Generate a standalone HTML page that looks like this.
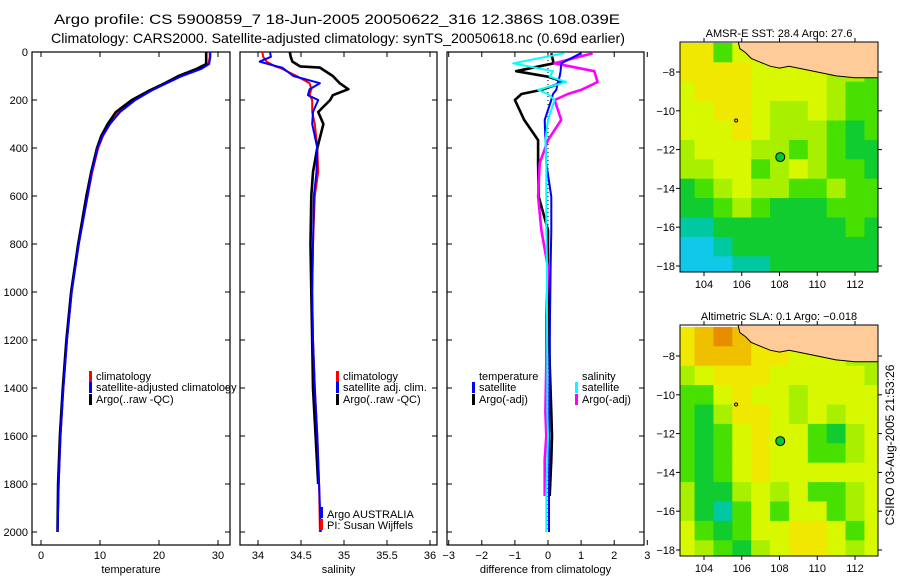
<!DOCTYPE html>
<html><head><meta charset="utf-8">
<style>
html,body{margin:0;padding:0;background:#fff;}
svg{display:block;font-family:"Liberation Sans",sans-serif;}
</style></head>
<body>
<svg id="fig" width="900" height="580" viewBox="0 0 900 580" xmlns="http://www.w3.org/2000/svg">
<text x="54" y="24" font-size="14" textLength="566" lengthAdjust="spacingAndGlyphs">Argo profile: CS 5900859_7 18-Jun-2005 20050622_316 12.386S 108.039E</text>
<text x="51" y="43" font-size="14" textLength="574" lengthAdjust="spacingAndGlyphs">Climatology: CARS2000. Satellite-adjusted climatology: synTS_20050618.nc (0.69d earlier)</text>
<g id="plots"></g>
<text transform="translate(894,445) rotate(-90)" text-anchor="middle" font-size="12">CSIRO 03-Aug-2005 21:53:26</text>
</svg>
<script>
// ---------- profile data ----------
const tPres = [0,20,50,70,100,130,160,200,250,300,350,400,500,600,800,1000,1200,1400,1600,1800,2000];
const tClim = [28.6,28.6,28.4,27.0,23.8,21.2,18.7,15.8,13.2,11.7,10.5,9.7,8.7,7.9,6.4,5.2,4.4,3.8,3.3,3.0,2.8];
const tSat  = [28.7,28.7,28.5,27.2,23.9,21.3,18.8,16.0,13.4,11.7,10.4,9.6,8.6,7.9,6.4,5.2,4.4,3.8,3.3,3.0,2.8];
const tArgo = [28.0,28.0,28.0,26.4,23.3,21.0,18.4,15.4,12.7,11.3,10.2,9.5,8.5,7.7,6.3,5.1,4.3,3.7,3.2,2.9,2.8];
const sPres = [0,20,40,60,65,100,130,155,180,200,250,300,400,500,600,800,1000,1200,1400,1600,1800,2000];
const sClim = [34.05,34.06,34.10,34.20,34.25,34.45,34.60,34.62,34.60,34.63,34.63,34.66,34.69,34.70,34.66,34.64,34.63,34.64,34.66,34.69,34.71,34.72];
const sSat  = [34.14,34.15,34.02,34.22,34.28,34.41,34.72,34.60,34.58,34.70,34.64,34.63,34.69,34.68,34.65,34.64,34.63,34.64,34.66,34.69,34.71,34.73];
const sArgo = [34.37,34.38,34.40,34.49,34.72,34.87,34.95,35.05,34.87,34.84,34.70,34.76,34.69,34.64,34.62,34.61,34.62,34.63,34.64,34.67,34.70];
const dPres = [5,47,80,103,125,158,175,200,283,367,463,603,742,900,1100,1300,1500,1600,1700,1850,2000];
const dTSat  = [1.0,0.4,0.38,0.35,0.3,0.25,0.15,0.1,-0.1,-0.08,-0.05,0.1,0.1,0.08,0.06,0.05,0.04,0.04,0.04,0.03,0.03];
const dTArgo = [0.1,0.17,-0.96,0.0,0.48,-0.2,-0.8,-1.0,-0.72,-0.3,-0.3,-0.28,0.0,0.0,0.02,0.05,0.1,0.12,0.1,0.05];
const dSSat  = [0.5,-1.05,0.15,0.05,0.55,-0.3,0.0,0.2,0.0,-0.08,-0.05,-0.05,-0.05,-0.03,-0.03,-0.02,-0.02,0.0,-0.02,-0.05,-0.05];
const dSArgo = [1.35,0.2,1.4,1.45,1.5,1.0,0.6,0.2,0.4,0.0,-0.25,-0.3,-0.2,0.0,-0.05,-0.05,-0.08,-0.05,-0.1,-0.1];
const pTicks = [0,200,400,600,800,1000,1200,1400,1600,1800,2000];
const tTicks = [0,10,20,30];
const sTicks = [34,34.5,35,35.5,36];
const dTicks = [-3,-2,-1,0,1,2,3];
// ---------- map data (1-degree cells, lat -7..-18, lon 103..113) ----------
const mapLons = [103,104,105,106,107,108,109,110,111,112,113];
const mapLats = [-7,-8,-9,-10,-11,-12,-13,-14,-15,-16,-17,-18];
const sstRows = ["77466666666","77776666554","67776666544","66776556544","66676555434","56665545433","55664565443","34565544544","33454333444","22333333343","11233333333","11122333333"];
const slaRows = ["78987776654","78887766655","56777666665","44676656666","43577656566","43467664356","43467664456","43467666666","53356564456","53246466456","64346677646","65435677656"];
const coastLon = [105.8,105.9,106.2,106.5,107.0,107.5,108.0,108.5,109.0,110.0,111.0,112.0,113.3,113.3];
const coastLat = [-6.4,-6.8,-7.0,-7.3,-7.5,-7.7,-7.8,-7.7,-7.8,-8.0,-8.2,-8.3,-8.3,-6.4];
const argoLon = 108.039, argoLat = -12.386;

const NS="http://www.w3.org/2000/svg";
const root=document.getElementById('plots');
function mk(tag,attrs,parent){const e=document.createElementNS(NS,tag);for(const k in attrs)e.setAttribute(k,attrs[k]);(parent||root).appendChild(e);return e;}
function txt(x,y,s,size,anchor,parent){const t=mk('text',{x:x,y:y,'font-size':size,'text-anchor':anchor||'start'},parent);t.textContent=s;return t;}

const PY0=52, PY1=532, PBOT=545;
const py=p=>PY0+(PY1-PY0)*p/2000;

function panel(name,x0,x1){
  const g=mk('g',{});
  
  
  mk('rect',{x:x0,y:PY0,width:x1-x0,height:PBOT-PY0,fill:'#fff',stroke:'#000','stroke-width':1.2},g);
  return {g};
}
function axes(P,x0,x1,ticks,fmt,xlabel,showY,tx){
  const g=P.g;
  ticks.forEach(v=>{const x=tx(v);
    mk('line',{x1:x,x2:x,y1:PBOT,y2:PBOT-5,stroke:'#000'},g);
    mk('line',{x1:x,x2:x,y1:PY0,y2:PY0+5,stroke:'#000'},g);
    const t=txt(x,559,fmt(v),11,'middle',g);
    
  });
  pTicks.forEach(p=>{const y=py(p);
    mk('line',{x1:x0,x2:x0+5,y1:y,y2:y,stroke:'#000'},g);
    mk('line',{x1:x1,x2:x1-5,y1:y,y2:y,stroke:'#000'},g);
    if(showY){const t=txt(28,y+4,String(p),11,'end',g);
      }
  });
  const xl=txt((x0+x1)/2,573,xlabel,11,'middle',g);
  
}
function line(P,pres,vals,color,w,name,tx){
  const pts=vals.map((v,i)=>tx(v).toFixed(1)+','+py(pres[i]).toFixed(1)).join(' ');
  const l=mk('polyline',{points:pts,fill:'none',stroke:color,'stroke-width':w,'stroke-linejoin':'round'},P.g);
  
  
}
function legend(P,x,y,color,label){
  if(color) mk('rect',{x:x,y:y-9,width:3,height:11,fill:color},P.g);
  const t=txt(x+7,y,label,11,'start',P.g);
  
}

// temperature
const X1a=32,X1b=230; const tx1=v=>41+(218-41)*v/30;
const P1=panel('temperature-panel',X1a,X1b);
axes(P1,X1a,X1b,tTicks,v=>String(v),'temperature',true,tx1);
line(P1,tPres,tClim,'#f00',2,'temp-climatology-line',tx1);
line(P1,tPres,tArgo,'#000',2.6,'temp-argo-line',tx1);
line(P1,tPres,tSat,'#00f',2,'temp-satellite-line',tx1);
legend(P1,89,380,'#f00','climatology');
legend(P1,89,391,'#00f','satellite-adjusted climatology');
legend(P1,89,403,'#000','Argo(..raw -QC)');

// salinity
const X2a=240,X2b=437; const tx2=v=>258+(430-258)*(v-34)/2;
const P2=panel('salinity-panel',X2a,X2b);
axes(P2,X2a,X2b,sTicks,v=>String(v),'salinity',false,tx2);
line(P2,sPres,sClim,'#f00',2,'sal-climatology-line',tx2);
line(P2,sPres.slice(0,sArgo.length),sArgo,'#000',2.6,'sal-argo-line',tx2);
line(P2,sPres,sSat,'#00f',2,'sal-satellite-line',tx2);
legend(P2,336,380,'#f00','climatology');
legend(P2,336,391,'#00f','satellite adj. clim.');
legend(P2,336,403,'#000','Argo(..raw -QC)');
mk('rect',{x:320,y:507,width:3,height:11,fill:'#00f'},P2.g);
mk('rect',{x:320,y:519,width:3,height:11,fill:'#f00'},P2.g);
txt(327,518,'Argo AUSTRALIA',11,'start',P2.g);
txt(327,529,'PI: Susan Wijffels',11,'start',P2.g);

// difference
const X3a=447,X3b=644; const tx3=v=>548+33.1*v;
const P3=panel('difference-panel',X3a,X3b);
axes(P3,X3a,X3b,dTicks,v=>String(v).replace('-','\u2212'),'difference from climatology',false,tx3);
mk('line',{x1:tx3(0),x2:tx3(0),y1:PY0,y2:PY1,stroke:'#000','stroke-dasharray':'1,3'},P3.g);
line(P3,dPres.slice(0,dTArgo.length),dTArgo,'#000',2.6,'diff-temp-argo-line',tx3);
line(P3,dPres.slice(0,dSArgo.length),dSArgo,'#f0f',2.6,'diff-sal-argo-line',tx3);
line(P3,dPres,dTSat,'#00f',2,'diff-temp-satellite-line',tx3);
line(P3,dPres,dSSat,'#0ff',2,'diff-sal-satellite-line',tx3);
legend(P3,472,380,null,'temperature');
legend(P3,472,391,'#00f','satellite');
legend(P3,472,403,'#000','Argo(-adj)');
legend(P3,575,380,null,'salinity');
legend(P3,575,391,'#0ff','satellite');
legend(P3,575,403,'#f0f','Argo(-adj)');

// ---------- maps ----------
const pal=['#1080ff','#10c8e8','#00c8a0','#10cc30','#48e000','#a8f000','#d8f800','#f0e800','#f0c000','#e88c00'];
function drawMap(name,rows,y0,y1,title){
  const g=mk('g',{});
  
  
  const x0=680,x1=878;
  const mx=lon=>704+(lon-104)*(855-704)/8;
  const my=lat=>(y0+(y1===272?30:31)) + (-8-lat)*19.4;
  const cid='clip'+name; const cp=mk('clipPath',{id:cid},g);
  mk('rect',{x:x0,y:y0,width:x1-x0,height:y1-y0},cp);
  const cg=mk('g',{'clip-path':'url(#'+cid+')'},g);
  mapLats.forEach((lat,j)=>{mapLons.forEach((lon,i)=>{
    const c=mk('rect',{x:mx(lon-0.5),y:my(lat+0.5),width:mx(lon+0.5)-mx(lon-0.5)+0.5,height:19.9,fill:pal[+rows[j][i]]},cg);
    
    
  });});
  const lp=coastLon.map((lo,i)=>mx(lo).toFixed(1)+','+my(coastLat[i]).toFixed(1)).join(' ');
  const land=mk('polygon',{points:lp,fill:'#ffcc99',stroke:'#000','stroke-width':1},cg);
  
  mk('circle',{cx:mx(105.7),cy:my(-10.5),r:1.5,fill:'none',stroke:'#000'},cg);
  const d=mk('circle',{cx:mx(argoLon),cy:my(argoLat),r:4.5,fill:'#00c830',stroke:'#000','stroke-width':1},cg);
  
  
  mk('rect',{x:x0,y:y0,width:x1-x0,height:y1-y0,fill:'none',stroke:'#000','stroke-width':1},g);
  [104,106,108,110,112].forEach(lo=>{const x=mx(lo);
    mk('line',{x1:x,x2:x,y1:y1,y2:y1+4,stroke:'#000'},g);
    mk('line',{x1:x,x2:x,y1:y0,y2:y0-4,stroke:'#000'},g);
    txt(x,y1+16,String(lo),11,'middle',g);});
  [-8,-10,-12,-14,-16,-18].forEach(la=>{const y=my(la);
    mk('line',{x1:x0,x2:x0-4,y1:y,y2:y,stroke:'#000'},g);
    mk('line',{x1:x1,x2:x1+4,y1:y,y2:y,stroke:'#000'},g);
    txt(x0-5,y+4,String(la).replace('-','\u2212'),11,'end',g);});
  const t=txt(779,y0-5,title,11,'middle',g);
  
}
drawMap('sst-map',sstRows,42,272,'AMSR-E SST: 28.4 Argo: 27.6');
drawMap('sla-map',slaRows,325,556,'Altimetric SLA: 0.1 Argo: \u22120.018');
</script>
</body></html>
